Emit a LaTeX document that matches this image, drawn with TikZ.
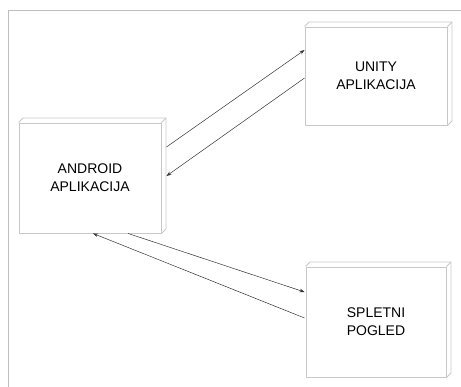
\documentclass[tikz,border=0pt]{standalone}
\usepackage{fontspec}
\setmainfont{Liberation Sans}
\usetikzlibrary{arrows.meta,calc}
\definecolor{boxgray}{HTML}{C8C8C8}
\definecolor{framegray}{HTML}{BEBEBE}
\definecolor{arrowgray}{HTML}{333333}
\tikzset{
  box3d/.style={draw=boxgray, line width=0.9pt, fill=white, inner sep=0pt,
    align=center, font=\fontsize{14pt}{18pt}\selectfont},
  depthline/.style={draw=boxgray, line width=0.9pt, line join=round},
  flow/.style={draw=arrowgray, line width=0.5pt, -{Stealth[length=5pt,width=3.5pt]}}
}
\newcommand{\depthof}[1]{%
  \draw[depthline] (#1.north west) -- ++(4.5pt,4.5pt) -- ($(#1.north east)+(4.5pt,4.5pt)$)
    -- ($(#1.south east)+(4.5pt,4.5pt)$) -- (#1.south east);
  \draw[depthline] (#1.north east) -- ++(4.5pt,4.5pt);
}
\begin{document}
\begin{tikzpicture}[x=1pt,y=-1pt]
\useasboundingbox (0,0) rectangle (461,387);
\draw[framegray, line width=0.9pt] (461,10) coordinate (ftr) -- (8,10) coordinate (ftl) -- (8,387) coordinate (fbl);
\node[box3d, minimum width=142pt, minimum height=110pt] (android) at (90,178) {ANDROID\\APLIKACIJA};
\node[box3d, minimum width=142pt, minimum height=98pt] (unity) at (376,76) {UNITY\\APLIKACIJA};
\node[box3d, minimum width=140pt, minimum height=110pt] (spletni) at (376,322) {SPLETNI\\POGLED};
\depthof{android}
\depthof{unity}
\depthof{spletni}
\draw[flow] ([xshift=5pt,yshift=31pt]android.east) -- ([yshift=26pt]unity.west);
\draw[flow] ([yshift=-2pt]unity.west) -- ([xshift=5pt,yshift=2pt]android.east);
\draw[flow] ([xshift=38pt]android.south) -- ([xshift=-1pt,yshift=30pt]spletni.west);
\draw[flow] ([xshift=-1pt,yshift=4pt]spletni.west) -- ([xshift=3pt]android.south);
\end{tikzpicture}
\end{document}
